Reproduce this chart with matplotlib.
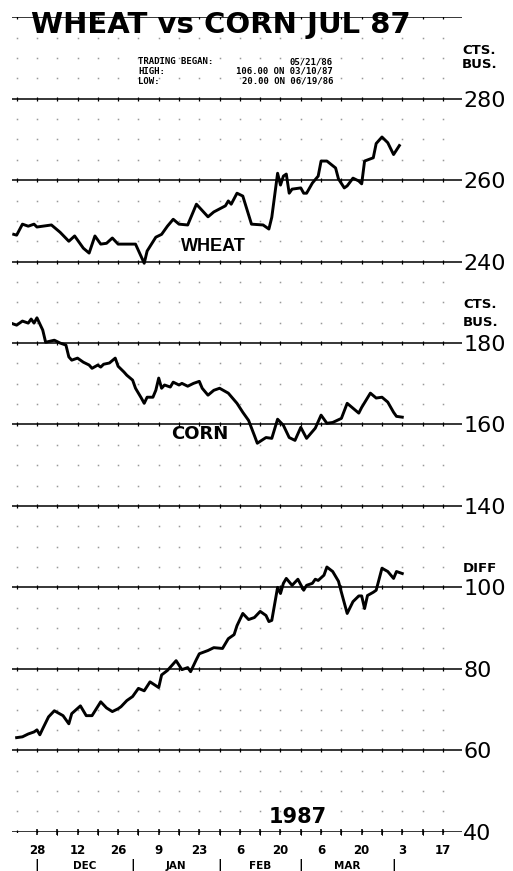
import numpy as np
import matplotlib
matplotlib.use("Agg")
import matplotlib.pyplot as plt
import matplotlib.dates as mdates
from matplotlib.transforms import blended_transform_factory

W, H = 513, 871

wheat_dates = ["1986-11-20", "1986-11-21", "1986-11-23", "1986-11-25", "1986-11-27",
               "1986-11-28", "1986-11-30", "1986-12-03", "1986-12-06", "1986-12-09",
               "1986-12-11", "1986-12-14", "1986-12-16", "1986-12-18", "1986-12-20",
               "1986-12-22", "1986-12-24", "1986-12-26", "1986-12-29", "1987-01-01",
               "1987-01-04", "1987-01-05", "1987-01-08", "1987-01-10", "1987-01-12",
               "1987-01-14", "1987-01-16", "1987-01-19", "1987-01-22", "1987-01-26",
               "1987-01-28", "1987-02-01", "1987-02-02", "1987-02-03", "1987-02-05",
               "1987-02-07", "1987-02-10", "1987-02-14", "1987-02-16", "1987-02-17",
               "1987-02-19", "1987-02-20", "1987-02-21", "1987-02-22", "1987-02-23",
               "1987-02-24", "1987-02-27", "1987-02-28", "1987-03-01", "1987-03-03",
               "1987-03-05", "1987-03-06", "1987-03-08", "1987-03-11", "1987-03-12",
               "1987-03-14", "1987-03-15", "1987-03-17", "1987-03-19", "1987-03-20",
               "1987-03-21", "1987-03-24", "1987-03-25", "1987-03-27", "1987-03-29",
               "1987-03-31", "1987-04-02"]
wheat = [246.7, 246.5, 249.2, 248.7, 249.2, 248.5, 248.7, 249.0, 247.2, 245.0,
         246.3, 243.3, 242.1, 246.3, 244.3, 244.5, 245.8, 244.3, 244.3, 244.3,
         239.6, 242.6, 246.0, 246.7, 248.7, 250.4, 249.2, 249.0, 254.1, 251.0,
         252.2, 253.7, 254.9, 254.1, 256.8, 256.1, 249.2, 249.0, 248.0, 250.9,
         261.7, 258.8, 261.0, 261.5, 256.8, 257.8, 258.1, 256.8, 256.8, 259.3,
         261.0, 264.7, 264.7, 263.0, 260.3, 258.1, 258.6, 260.5, 259.8, 259.1,
         264.7, 265.5, 269.0, 270.6, 269.2, 266.3, 268.5]

corn_dates = ["1986-11-19", "1986-11-21", "1986-11-23", "1986-11-25", "1986-11-26",
              "1986-11-27", "1986-11-28", "1986-11-30", "1986-12-01", "1986-12-04",
              "1986-12-06", "1986-12-08", "1986-12-09", "1986-12-10", "1986-12-12",
              "1986-12-14", "1986-12-16", "1986-12-17", "1986-12-19", "1986-12-20",
              "1986-12-21", "1986-12-23", "1986-12-25", "1986-12-26", "1986-12-28",
              "1986-12-29", "1986-12-31", "1987-01-01", "1987-01-03", "1987-01-04",
              "1987-01-05", "1987-01-07", "1987-01-08", "1987-01-09", "1987-01-10",
              "1987-01-11", "1987-01-13", "1987-01-14", "1987-01-16", "1987-01-17",
              "1987-01-19", "1987-01-21", "1987-01-23", "1987-01-24", "1987-01-26",
              "1987-01-28", "1987-01-30", "1987-02-02", "1987-02-05", "1987-02-07",
              "1987-02-09", "1987-02-11", "1987-02-12", "1987-02-15", "1987-02-17",
              "1987-02-19", "1987-02-21", "1987-02-23", "1987-02-25", "1987-02-27",
              "1987-03-01", "1987-03-04", "1987-03-06", "1987-03-08", "1987-03-10",
              "1987-03-13", "1987-03-15", "1987-03-17", "1987-03-19", "1987-03-20",
              "1987-03-23", "1987-03-25", "1987-03-27", "1987-03-29", "1987-03-31",
              "1987-04-01", "1987-04-03"]
corn = [184.9, 184.4, 185.4, 184.9, 185.9, 184.9, 186.2, 183.2, 180.2, 180.7,
        180.0, 179.5, 176.6, 175.8, 176.3, 175.3, 174.6, 173.8, 174.6, 174.1,
        174.8, 175.1, 176.3, 174.3, 172.9, 172.1, 170.9, 168.9, 166.5, 165.2,
        166.7, 166.7, 168.4, 171.4, 168.9, 169.7, 169.2, 170.4, 169.7, 170.1,
        169.4, 170.1, 170.6, 168.9, 167.2, 168.4, 168.9, 167.7, 165.2, 163.0,
        161.0, 157.3, 155.4, 156.8, 156.6, 161.3, 159.8, 156.8, 156.1, 159.3,
        156.6, 159.1, 162.3, 160.3, 160.5, 161.5, 165.2, 164.0, 162.8, 164.2,
        167.7, 166.5, 166.7, 165.5, 163.0, 162.0, 161.8]

diff_dates = ["1986-11-21", "1986-11-23", "1986-11-25", "1986-11-27", "1986-11-28",
              "1986-11-29", "1986-11-30", "1986-12-02", "1986-12-04", "1986-12-07",
              "1986-12-09", "1986-12-10", "1986-12-13", "1986-12-15", "1986-12-17",
              "1986-12-20", "1986-12-22", "1986-12-24", "1986-12-26", "1986-12-27",
              "1986-12-29", "1986-12-31", "1987-01-02", "1987-01-04", "1987-01-06",
              "1987-01-09", "1987-01-10", "1987-01-12", "1987-01-15", "1987-01-17",
              "1987-01-19", "1987-01-20", "1987-01-22", "1987-01-23", "1987-01-26",
              "1987-01-28", "1987-01-31", "1987-02-02", "1987-02-04", "1987-02-05",
              "1987-02-07", "1987-02-09", "1987-02-11", "1987-02-13", "1987-02-15",
              "1987-02-16", "1987-02-17", "1987-02-19", "1987-02-20", "1987-02-21",
              "1987-02-22", "1987-02-24", "1987-02-26", "1987-02-28", "1987-03-01",
              "1987-03-03", "1987-03-04", "1987-03-05", "1987-03-07", "1987-03-08",
              "1987-03-10", "1987-03-12", "1987-03-13", "1987-03-15", "1987-03-17",
              "1987-03-19", "1987-03-20", "1987-03-21", "1987-03-22", "1987-03-24",
              "1987-03-25", "1987-03-27", "1987-03-29", "1987-03-31", "1987-04-01",
              "1987-04-03"]
diff = [63.1, 63.3, 64.0, 64.5, 65.0, 63.8, 65.3, 68.2, 69.7, 68.5,
        66.5, 69.0, 70.9, 68.5, 68.5, 71.9, 70.4, 69.5, 70.2, 70.7,
        72.2, 73.2, 75.2, 74.6, 76.8, 75.4, 78.5, 79.6, 82.0, 79.8,
        80.3, 79.3, 82.3, 83.7, 84.5, 85.2, 85.0, 87.4, 88.4, 90.6,
        93.6, 92.1, 92.6, 94.1, 93.1, 91.6, 91.9, 100.0, 98.5, 101.0,
        102.2, 100.5, 102.0, 99.3, 100.5, 101.0, 102.0, 101.7, 103.0, 105.0,
        103.9, 101.5, 98.8, 93.6, 96.5, 97.9, 97.9, 94.8, 98.0, 98.8,
        99.3, 104.7, 103.9, 102.2, 103.9, 103.4]

tick_dates = ["1986-11-28", "1986-12-12", "1986-12-26", "1987-01-09", "1987-01-23",
              "1987-02-06", "1987-02-20", "1987-03-06", "1987-03-20", "1987-04-03",
              "1987-04-17"]
tick_labels = ["28", "12", "26", "9", "23", "6", "20", "6", "20", "3", "17"]
month_ends = ["1986-11-28", "1986-12-31", "1987-01-30", "1987-02-27", "1987-03-31"]
month_names = ["DEC", "JAN", "FEB", "MAR"]

wheat_ticks = [240, 260, 280]
corn_ticks = [140, 160, 180]
diff_ticks = [40, 60, 80, 100]

info_left = ["TRADING BEGAN:", "HIGH:", "LOW:"]
info_right = ["05/21/86", "106.00 ON 03/10/87", "20.00 ON 06/19/86"]


def d2n(ds):
    return mdates.date2num(np.array(ds, dtype="datetime64[D]"))


def fx(px):
    return px / W


def fy(py):
    return 1 - py / H


fig = plt.figure(figsize=(W / 100, H / 100), dpi=100)
top_px, bot_px = 17.3, 831.7
rect = [fx(12), fy(bot_px), 450 / W, (bot_px - top_px) / H]

ax_w = fig.add_axes(rect)
ax_c = fig.add_axes(rect, sharex=ax_w)
ax_d = fig.add_axes(rect, sharex=ax_w)
for ax in (ax_w, ax_c, ax_d):
    ax.set_facecolor("none")
    for s in ax.spines.values():
        s.set_visible(False)

ax_w.set_ylim(100, 300)
ax_c.set_ylim(60, 260)
ax_d.set_ylim(40, 240)

x0 = d2n(["1986-11-28"])[0]
ax_w.set_xlim(x0 - 8.6, x0 + 146.6)

# weekly positions for tick crosses and dot grid
major_x = d2n(tick_dates)
week_x = np.arange(major_x[0] - 7, major_x[-1] + 1, 7)

# faint dot lattice every 5 units
dot_levels = [v for v in np.arange(105, 300, 5) if v % 20 != 0]
gx, gy = np.meshgrid(week_x, dot_levels)
ax_w.plot(gx.ravel(), gy.ravel(), ls="none", marker="s", ms=1.1,
          color="0.6", mew=0)

# horizontal grid lines with weekly tick crosses
for ax, ticks in ((ax_w, wheat_ticks + [300]), (ax_c, corn_ticks), (ax_d, diff_ticks)):
    for t in ticks:
        ax.axhline(t, color="black", lw=1.1, zorder=2)
        ax.plot(week_x, [t] * len(week_x), ls="none", marker="|", ms=3.5,
                mew=0.9, color="black", zorder=2)

ax_w.plot(d2n(wheat_dates), wheat, color="black", lw=2.1, zorder=3)
ax_c.plot(d2n(corn_dates), corn, color="black", lw=2.1, zorder=3)
ax_d.plot(d2n(diff_dates), diff, color="black", lw=2.1, zorder=3)

# right-side value labels
for ax, ticks in ((ax_w, wheat_ticks), (ax_c, corn_ticks), (ax_d, diff_ticks)):
    ax.set_yticks(ticks)
    ax.set_yticklabels([str(t) for t in ticks])
    ax.tick_params(axis="y", left=False, labelleft=False, right=True,
                   labelright=True, length=0, pad=1, labelsize=16)

for ax in (ax_w, ax_c):
    ax.tick_params(axis="x", bottom=False, labelbottom=False)

ax_d.set_xticks(major_x)
ax_d.set_xticklabels(tick_labels)
ax_d.set_xticks([x for x in week_x if x not in major_x and x >= major_x[0]], minor=True)
ax_d.tick_params(axis="x", which="both", direction="inout", length=5, width=1.1,
                 pad=6, labelsize=8.5)
for lab in ax_d.get_xticklabels():
    lab.set_fontweight("bold")

# month row
trans = blended_transform_factory(ax_d.transData, fig.transFigure)
me = d2n(month_ends)
for x in me:
    ax_d.text(x, fy(865), "|", transform=trans, ha="center", va="center",
              fontsize=9, fontweight="bold")
for i, name in enumerate(month_names):
    ax_d.text((me[i] + me[i + 1]) / 2, fy(866), name, transform=trans,
              ha="center", va="center", fontsize=7.5, fontweight="bold")

# title and labels
fig.text(fx(31), fy(25), "WHEAT vs CORN JUL 87", fontsize=21, fontweight="bold",
         ha="left", va="center")
for px, py, s in ((462, 50, "CTS."), (462, 65, "BUS."), (463, 305, "CTS."),
                  (463, 323, "BUS."), (463, 569, "DIFF")):
    fig.text(fx(px), fy(py), s, fontsize=9.5, fontweight="bold", va="center")

for i, (l, r) in enumerate(zip(info_left, info_right)):
    yy = fy(62 + 9.5 * i)
    fig.text(fx(138), yy, l, fontsize=6.5, family="DejaVu Sans Mono",
             fontweight="bold", va="center")
    fig.text(fx(333), yy, r, fontsize=6.5, family="DejaVu Sans Mono",
             fontweight="bold", va="center", ha="right")

ax_w.text(d2n(["1987-01-28"])[0], 243.8, "WHEAT", fontsize=13, fontweight="bold",
          ha="center", va="center", family="Liberation Sans", zorder=4)
ax_c.text(d2n(["1987-01-23"])[0], 157.6, "CORN", fontsize=13, fontweight="bold",
          ha="center", va="center", zorder=4)
ax_d.text(d2n(["1987-02-26"])[0], 43.6, "1987", fontsize=15, fontweight="bold",
          ha="center", va="center", zorder=4)

fig.savefig("out.png", dpi=100)
